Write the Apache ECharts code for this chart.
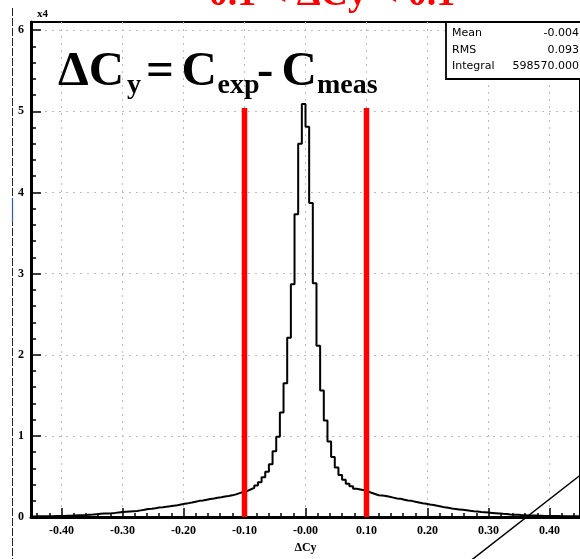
<!DOCTYPE html>
<html><head><meta charset="utf-8">
<script src="https://cdn.jsdelivr.net/npm/echarts@6/dist/echarts.min.js"></script>
<style>html,body{margin:0;padding:0;background:#fff;overflow:hidden}#c{width:580px;height:559px}</style>
</head><body><div id="c"></div><script>
// ---- data (units of 10^4 entries) ----
const binEdgeMin = -0.45;
const binEdgeMax = 0.45;
const counts = [
  0.008, 0.009, 0.010, 0.010, 0.011, 0.012, 0.013, 0.014, 0.015, 0.017,
  0.018, 0.020, 0.022, 0.024, 0.026, 0.029, 0.032, 0.036, 0.040, 0.043,
  0.045, 0.048, 0.052, 0.057, 0.062, 0.066, 0.070, 0.073, 0.076, 0.083,
  0.090, 0.100, 0.104, 0.110, 0.117, 0.122, 0.128, 0.133, 0.140, 0.147,
  0.156, 0.165, 0.172, 0.180, 0.190, 0.200, 0.205, 0.215, 0.223, 0.230,
  0.238, 0.245, 0.253, 0.260, 0.268, 0.280, 0.295, 0.310,
  0.32, 0.34, 0.36, 0.39, 0.43, 0.49, 0.56, 0.65, 0.81, 0.99,
  1.29, 1.65, 2.21, 2.87, 3.73, 4.60, 5.09,
  4.81, 3.87, 2.88, 2.11, 1.56, 1.19, 0.93, 0.74, 0.61, 0.52,
  0.46, 0.41, 0.38, 0.35, 0.34, 0.33, 0.32,
  0.30, 0.285, 0.27, 0.265, 0.26, 0.25, 0.24, 0.23, 0.225, 0.215,
  0.205, 0.20, 0.19, 0.18, 0.17, 0.165, 0.155, 0.15, 0.14, 0.13,
  0.12, 0.115, 0.105, 0.10, 0.095, 0.09, 0.085, 0.078, 0.072, 0.068,
  0.063, 0.06, 0.056, 0.052, 0.048, 0.044, 0.04, 0.037, 0.033, 0.03,
  0.028, 0.025, 0.023, 0.021, 0.02, 0.019, 0.018, 0.016, 0.015, 0.015,
  0.014, 0.013, 0.012, 0.012, 0.011, 0.01, 0.01, 0.009
];
const xMajorTicks = [-0.4, -0.3, -0.2, -0.1, 0, 0.1, 0.2, 0.3, 0.4];
const yMajorTicks = [0, 1, 2, 3, 4, 5, 6];
const cutValues = [-0.1, 0.1];
const cutHeight = 5.04;
const titleText = '-0.1 < \u0394Cy < 0.1';
const xAxisTitle = '\u0394Cy';
const statsLabels = ['Mean', 'RMS', 'Integral'];
const statsValues = ['-0.004', '0.093', '598570.000'];

// minor tick positions (axis decoration)
const xMinorTicks = [];
for (let k = -22; k <= 22; k++) { if (k % 5 !== 0) xMinorTicks.push(+(k * 0.02).toFixed(2)); }
const yMinorTicks = [];
for (let k = 1; k < 30; k++) { if (k % 5 !== 0) yMinorTicks.push(+(k * 0.2).toFixed(1)); }

// histogram step points (bin low edges)
const nb = counts.length;
const bw = (binEdgeMax - binEdgeMin) / nb;
const histPts = counts.map((v, i) => [binEdgeMin + i * bw, v]);
histPts.push([binEdgeMax, counts[nb - 1]]);

const chart = echarts.init(document.getElementById('c'), null, {renderer: 'canvas'});

const xLabelFmt = v => (Math.abs(v) < 1e-9 ? '-0.00' : v.toFixed(2));
const gridLine = {show: true, lineStyle: {color: '#bdbdbd', width: 1, type: [2, 5]}};

const series = [{
  type: 'line', step: 'end', data: histPts, symbol: 'none', silent: true,
  lineStyle: {color: '#000', width: 2}, z: 3, animation: false
}];
cutValues.forEach(c => series.push({
  type: 'line', data: [[c, 0], [c, cutHeight]], symbol: 'none', silent: true,
  lineStyle: {color: '#ff0000', width: 5.5, cap: 'butt'}, z: 4, animation: false
}));

// formula parts
const mainF = 'bold 49px "Liberation Serif", serif';
const subF = 'bold 28px "Liberation Serif", serif';
const mBase = 89, sBase = 95;
const parts = [
  ['\u0394C', 58, mainF, mBase - 49 * 0.3375],
  ['y', 127, subF, sBase - 28 * 0.3375],
  ['=', 146, mainF, mBase - 49 * 0.3375],
  ['C', 181.5, mainF, mBase - 49 * 0.3375],
  ['exp', 217.5, subF, sBase - 28 * 0.3375],
  ['-', 257, mainF, mBase - 49 * 0.3375],
  ['C', 281.5, mainF, mBase - 49 * 0.3375],
  ['meas', 317, subF, sBase - 28 * 0.3375]
];
const graphics = parts.map(p => ({
  type: 'text', z: 20, silent: true,
  style: {text: p[0], x: p[1], y: p[3], font: p[2], fill: '#000', textAlign: 'left', textVerticalAlign: 'middle'}
}));

// title (cropped at top)
graphics.push({type: 'text', z: 20, silent: true,
  style: {text: titleText, x: 325.6, y: 8 - 38 * 0.3375, font: 'bold 38px "Liberation Serif", serif', fill: '#ff0000', textAlign: 'center', textVerticalAlign: 'middle'}});
// exponent label
graphics.push({type: 'text', z: 20, silent: true,
  style: {text: 'x4', x: 37, y: 14, font: 'bold 11px "Liberation Serif", serif', fill: '#000', textAlign: 'left', textVerticalAlign: 'middle'}});
// stats box
graphics.push({type: 'rect', z: 20, silent: true, shape: {x: 446, y: 22, width: 160, height: 57},
  style: {fill: '#fff', stroke: '#000', lineWidth: 1.8}});
const rowsY = [33.5, 50, 66.5];
statsLabels.forEach((t, i) => {
  graphics.push({type: 'text', z: 21, silent: true,
    style: {text: t, x: 452, y: rowsY[i], font: '11px "DejaVu Sans", sans-serif', fill: '#000', textAlign: 'left', textVerticalAlign: 'middle'}});
  graphics.push({type: 'text', z: 21, silent: true,
    style: {text: statsValues[i], x: 579, y: rowsY[i], font: '11px "DejaVu Sans", sans-serif', fill: '#000', textAlign: 'right', textVerticalAlign: 'middle'}});
});
// page-edge dashed line and diagonal stroke
graphics.push({type: 'line', z: 20, silent: true, shape: {x1: 12.5, y1: 8, x2: 12.5, y2: 559},
  style: {stroke: '#222', lineWidth: 1, lineDash: [8, 2]}});
graphics.push({type: 'line', z: 21, silent: true, shape: {x1: 12.5, y1: 198, x2: 12.5, y2: 222},
  style: {stroke: '#2a5fc4', lineWidth: 1.2}});
graphics.push({type: 'line', z: 21, silent: true, shape: {x1: 460, y1: 569, x2: 592, y2: 466},
  style: {stroke: '#000', lineWidth: 1.5}});

chart.setOption({
  animation: false,
  backgroundColor: '#fff',
  grid: {left: 31, top: 22, width: 553, height: 501, show: true, borderColor: '#000', borderWidth: 2, backgroundColor: 'transparent'},
  xAxis: [{
    type: 'value', min: binEdgeMin, max: binEdgeMax, position: 'bottom',
    axisLine: {show: true, onZero: false, lineStyle: {color: '#000', width: 3}},
    axisTick: {show: true, inside: true, length: 9, customValues: xMajorTicks, lineStyle: {color: '#000', width: 1.5}},
    axisLabel: {show: true, customValues: xMajorTicks, formatter: xLabelFmt, margin: 8, color: '#000',
      fontFamily: '"Liberation Serif", serif', fontWeight: 'bold', fontSize: 12},
    splitLine: gridLine,
    name: xAxisTitle, nameLocation: 'middle', nameGap: 24,
    nameTextStyle: {color: '#000', fontFamily: '"Liberation Serif", serif', fontWeight: 'bold', fontSize: 12}
  }, {
    type: 'value', min: binEdgeMin, max: binEdgeMax, position: 'bottom',
    axisLine: {show: false, onZero: false},
    axisTick: {show: true, inside: true, length: 4, customValues: xMinorTicks, lineStyle: {color: '#000', width: 1.5}},
    axisLabel: {show: false}, splitLine: {show: false}
  }],
  yAxis: [{
    type: 'value', min: 0, max: 6.1, position: 'left',
    axisLine: {show: true, onZero: false, lineStyle: {color: '#000', width: 3}},
    axisTick: {show: true, inside: true, length: 10, customValues: yMajorTicks, lineStyle: {color: '#000', width: 1.5}},
    axisLabel: {show: true, customValues: yMajorTicks, formatter: v => String(Math.round(v)), margin: 7, color: '#000',
      fontFamily: '"Liberation Serif", serif', fontWeight: 'bold', fontSize: 12},
    splitLine: gridLine
  }, {
    type: 'value', min: 0, max: 6.1, position: 'left',
    axisLine: {show: false, onZero: false},
    axisTick: {show: true, inside: true, length: 5, customValues: yMinorTicks, lineStyle: {color: '#000', width: 1.5}},
    axisLabel: {show: false}, splitLine: {show: false}
  }],
  series: series,
  graphic: {elements: graphics}
});
</script></body></html>
